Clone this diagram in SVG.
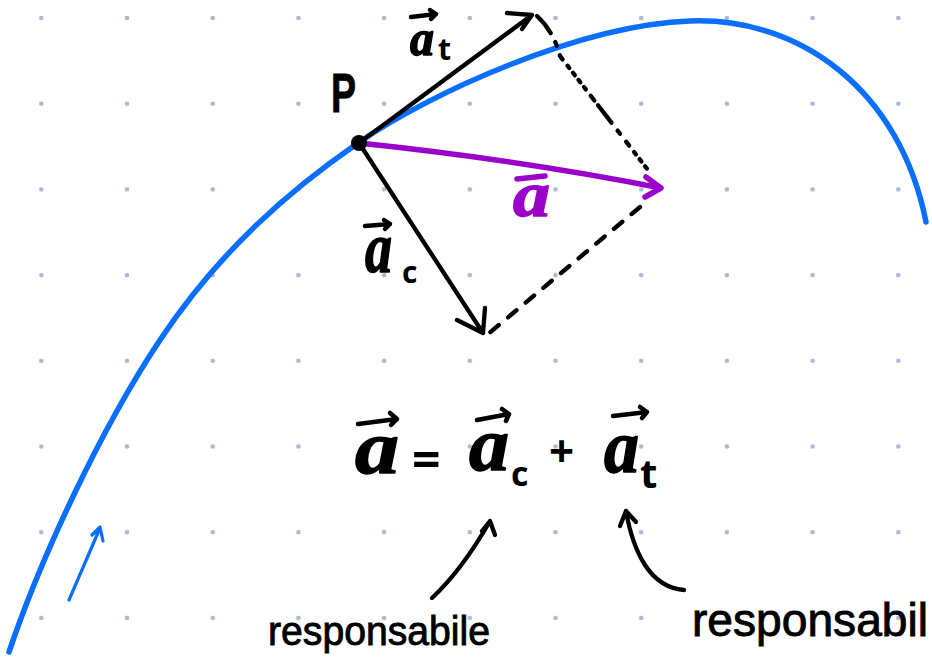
<svg xmlns="http://www.w3.org/2000/svg" width="932" height="657" viewBox="0 0 932 657">
<defs>
<pattern id="dots" x="41.3" y="18" width="85.7" height="85.7" patternUnits="userSpaceOnUse">
<circle cx="0" cy="0" r="2.3" fill="#a9b8d4"/>
<circle cx="85.7" cy="0" r="2.3" fill="#a9b8d4"/>
<circle cx="0" cy="85.7" r="2.3" fill="#a9b8d4"/>
<circle cx="85.7" cy="85.7" r="2.3" fill="#a9b8d4"/>
</pattern>
</defs>
<style>
.blue{fill:none;stroke:#0a6eff;stroke-linecap:round;stroke-linejoin:round}
.blk{fill:none;stroke:#000;stroke-width:4.3;stroke-linecap:round;stroke-linejoin:round}
.pur{fill:none;stroke:#9a00c9;stroke-width:5.5;stroke-linecap:round;stroke-linejoin:round}
.ov{fill:none;stroke:#000;stroke-width:4.5;stroke-linecap:round;stroke-linejoin:round}
.ma{font-family:"Liberation Serif","Times New Roman",serif;font-style:italic;font-weight:700;fill:#000;stroke:#000;stroke-width:1.5;stroke-linejoin:round}
.sub{font-family:"Open Sans","Noto Sans",sans-serif;font-weight:700;fill:#000}
.hw{font-family:"Liberation Sans",Arial,sans-serif;fill:#000;stroke:#000;stroke-width:0.9}
</style>
<rect width="932" height="657" fill="#fff"/>
<rect width="932" height="657" fill="url(#dots)"/>

<g id="trajectory">
<path class="blue" stroke-width="5.5" d="M9,652 C40,560 100,430 160,340 C220,250 290,190 358,143 C430,93 580,25 690,21 C800,17 900,90 926,222"/>
<path class="blue" stroke-width="3.2" d="M69,600 L100,528 M92,535 L100,527 L103,541"/>
</g>

<g id="connectors">
<path class="blk" stroke-width="3.5" stroke-dasharray="22 10 4 10 5 8 3 6 3 6 3 6 3 8 6 6" d="M537,16 C548,26 556,40 560,56 L648,170"/>
<path class="blk" stroke-width="3.5" stroke-dasharray="11 12" d="M640,207 L488,334"/>
<path class="blk" d="M359,143 L532,15 M507,13 L532,15 L522,29"/>
<path class="blk" d="M359,143 L483,333 M457,320 L483,333 L485,308"/>
<path class="pur" d="M359,143 Q520,160 661,188 M646,177 L661,188 L645,197"/>
</g>

<g id="P">
<circle cx="359" cy="143" r="8" fill="#000"/>
<text class="hw" x="331" y="112" font-size="56" font-weight="700" textLength="25" lengthAdjust="spacingAndGlyphs">P</text>
</g>

<g id="label-at">
<path class="ov" stroke-width="4" d="M411,17 L436,14 M430,10 L436,14 L431,19"/>
<text class="ma" x="410" y="55" font-size="50" textLength="24" lengthAdjust="spacingAndGlyphs">a</text>
<text class="sub" x="438" y="60" font-size="30">t</text>
</g>

<g id="label-ac">
<path class="ov" stroke-width="4" d="M365,226 L390,224 M384,220 L390,224 L385,229"/>
<text class="ma" x="365" y="272" font-size="72" textLength="27" lengthAdjust="spacingAndGlyphs">a</text>
<text class="sub" x="402" y="283" font-size="30">c</text>
</g>

<g id="label-a">
<path class="pur" stroke-width="4.5" d="M517,179 L545,176"/>
<text x="513" y="216" font-size="64" textLength="37" lengthAdjust="spacingAndGlyphs" font-family="Liberation Serif, Times New Roman, serif" font-style="italic" font-weight="700" fill="#9a00c9" stroke="#9a00c9" stroke-width="1.5">a</text>
</g>

<g id="equation">
<path class="ov" d="M358,424 L397,419 M390,413 L397,419 L391,425"/>
<text class="ma" x="355" y="473" font-size="76" textLength="44" lengthAdjust="spacingAndGlyphs">a</text>
<text class="sub" x="412" y="477" font-size="50">=</text>
<path class="ov" d="M477,420 L509,414 M502,409 L509,414 L506,421"/>
<text class="ma" x="469" y="470" font-size="76" textLength="40" lengthAdjust="spacingAndGlyphs">a</text>
<text class="sub" x="511" y="486" font-size="34">c</text>
<text class="sub" x="549" y="467" font-size="44">+</text>
<path class="ov" d="M613,416 L647,412 M640,407 L647,412 L642,418"/>
<text class="ma" x="604" y="472" font-size="76" textLength="35" lengthAdjust="spacingAndGlyphs">a</text>
<text class="sub" x="640" y="488" font-size="40">t</text>
</g>

<g id="note-left">
<path class="blk" stroke-width="3.5" d="M432,598 Q462,570 490,521 M482,531 L490,521 L495,535"/>
<text class="hw" x="268" y="645" font-size="40" textLength="222" lengthAdjust="spacingAndGlyphs">responsabile</text>
</g>

<g id="note-right">
<path class="blk" stroke-width="3.5" d="M684,590 Q660,588 645,565 Q632,545 626,511 M620,526 L626,511 L636,522"/>
<text class="hw" x="692" y="636" font-size="46" textLength="236" lengthAdjust="spacingAndGlyphs">responsabil</text>
</g>
</svg>
